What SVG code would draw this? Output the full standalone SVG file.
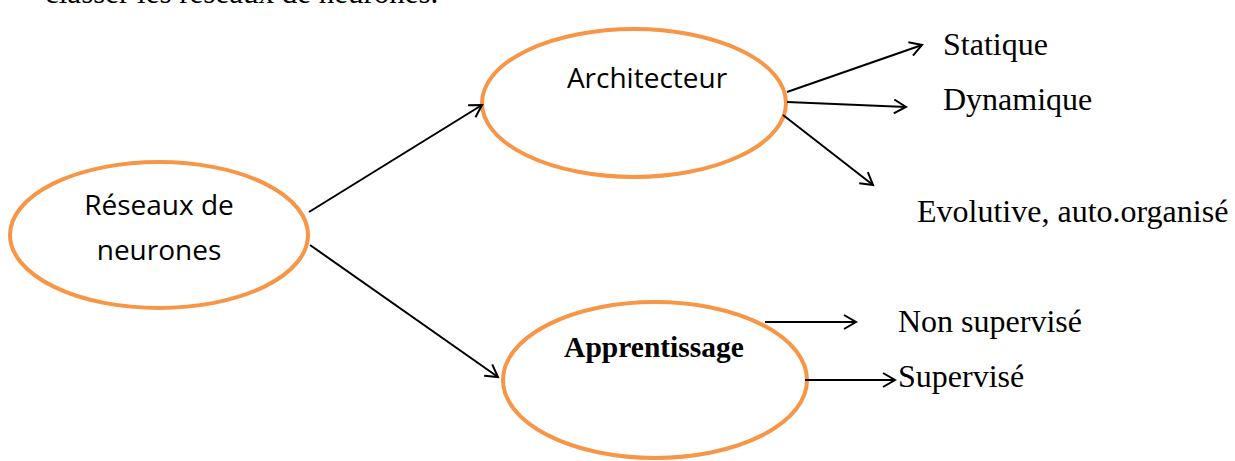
<svg xmlns="http://www.w3.org/2000/svg" width="1235" height="461" viewBox="0 0 1235 461">
<defs>
<marker id="arr" markerWidth="16" markerHeight="16" refX="13" refY="8" orient="auto" markerUnits="userSpaceOnUse">
<path d="M1,1 L13,8 L1,15" fill="none" stroke="#000" stroke-width="2"/>
</marker>
<style>
.node{fill:#fff;stroke:#F79646;stroke-width:4}
.sans{font-family:"Open Sans","Liberation Sans",sans-serif;font-size:28px;fill:#000}
.serif{font-family:"Liberation Serif","Times New Roman",serif;font-size:32px;fill:#000}
.conn line{stroke:#000;stroke-width:2;marker-end:url(#arr)}
</style>
</defs>
<rect width="1235" height="461" fill="#fff"/>
<text class="serif" x="45" y="3" style="font-size:31px">classer les réseaux de neurones.</text>
<g id="node-reseaux">
<ellipse class="node" cx="159" cy="235" rx="149" ry="73"/>
<text class="sans" x="159" y="215" text-anchor="middle">Réseaux de</text>
<text class="sans" x="159" y="260" text-anchor="middle">neurones</text>
</g>
<g id="node-architecteur">
<ellipse class="node" cx="634" cy="103" rx="152" ry="74"/>
<text class="sans" x="647" y="88" text-anchor="middle">Architecteur</text>
</g>
<g id="node-apprentissage">
<ellipse class="node" cx="655" cy="380" rx="152" ry="78"/>
<text class="serif" x="654" y="357" text-anchor="middle" font-weight="bold" style="font-size:29.5px">Apprentissage</text>
</g>
<g id="labels">
<text class="serif" x="943" y="55">Statique</text>
<text class="serif" x="943" y="110">Dynamique</text>
<text class="serif" x="917" y="222">Evolutive, auto.organisé</text>
<text class="serif" x="898" y="332">Non supervisé</text>
<text class="serif" x="898" y="387">Supervisé</text>
</g>
<g id="connectors" class="conn">
<line x1="309" y1="212" x2="482" y2="105"/>
<line x1="310" y1="245" x2="498" y2="377"/>
<line x1="787" y1="92" x2="922" y2="45"/>
<line x1="787" y1="102" x2="906" y2="107"/>
<line x1="783" y1="115" x2="873" y2="185"/>
<line x1="765" y1="322" x2="856" y2="322"/>
<line x1="805" y1="380" x2="895" y2="380"/>
</g>
</svg>
